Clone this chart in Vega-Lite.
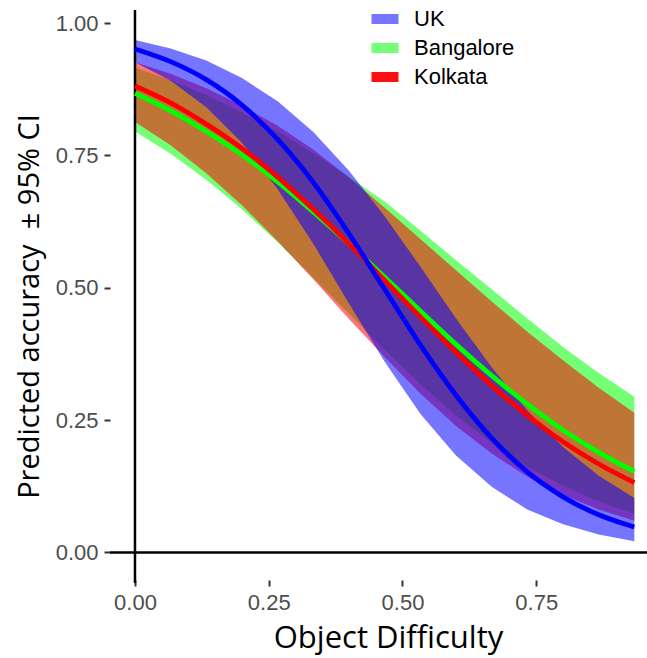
{
  "$schema": "https://vega.github.io/schema/vega-lite/v6.json",
  "width": 537,
  "height": 570,
  "autosize": {"type": "none"},
  "padding": {"left": 110, "top": 10, "right": 0, "bottom": 78},
  "background": "white",
  "config": {"view": {"stroke": null}, "font": "Liberation Sans"},
  "datasets": {
    "d": [
      {"g": "UK", "x": 0, "y": 0.951, "lo": 0.926, "hi": 0.968},
      {"g": "UK", "x": 0.0667, "y": 0.927, "lo": 0.891, "hi": 0.952},
      {"g": "UK", "x": 0.1333, "y": 0.893, "lo": 0.841, "hi": 0.929},
      {"g": "UK", "x": 0.2, "y": 0.845, "lo": 0.774, "hi": 0.896},
      {"g": "UK", "x": 0.2667, "y": 0.78, "lo": 0.686, "hi": 0.852},
      {"g": "UK", "x": 0.3333, "y": 0.699, "lo": 0.583, "hi": 0.794},
      {"g": "UK", "x": 0.4, "y": 0.602, "lo": 0.47, "hi": 0.721},
      {"g": "UK", "x": 0.4667, "y": 0.497, "lo": 0.36, "hi": 0.635},
      {"g": "UK", "x": 0.5333, "y": 0.392, "lo": 0.262, "hi": 0.54},
      {"g": "UK", "x": 0.6, "y": 0.297, "lo": 0.183, "hi": 0.442},
      {"g": "UK", "x": 0.6667, "y": 0.216, "lo": 0.124, "hi": 0.35},
      {"g": "UK", "x": 0.7333, "y": 0.152, "lo": 0.081, "hi": 0.268},
      {"g": "UK", "x": 0.8, "y": 0.105, "lo": 0.053, "hi": 0.199},
      {"g": "UK", "x": 0.8667, "y": 0.071, "lo": 0.034, "hi": 0.145},
      {"g": "UK", "x": 0.9333, "y": 0.048, "lo": 0.021, "hi": 0.103},
      {"g": "Kolkata", "x": 0, "y": 0.881, "lo": 0.813, "hi": 0.926},
      {"g": "Kolkata", "x": 0.0667, "y": 0.849, "lo": 0.769, "hi": 0.904},
      {"g": "Kolkata", "x": 0.1333, "y": 0.809, "lo": 0.716, "hi": 0.877},
      {"g": "Kolkata", "x": 0.2, "y": 0.763, "lo": 0.656, "hi": 0.844},
      {"g": "Kolkata", "x": 0.2667, "y": 0.709, "lo": 0.588, "hi": 0.806},
      {"g": "Kolkata", "x": 0.3333, "y": 0.648, "lo": 0.516, "hi": 0.761},
      {"g": "Kolkata", "x": 0.4, "y": 0.583, "lo": 0.441, "hi": 0.708},
      {"g": "Kolkata", "x": 0.4667, "y": 0.514, "lo": 0.369, "hi": 0.651},
      {"g": "Kolkata", "x": 0.5333, "y": 0.445, "lo": 0.3, "hi": 0.592},
      {"g": "Kolkata", "x": 0.6, "y": 0.378, "lo": 0.239, "hi": 0.533},
      {"g": "Kolkata", "x": 0.6667, "y": 0.315, "lo": 0.187, "hi": 0.474},
      {"g": "Kolkata", "x": 0.7333, "y": 0.259, "lo": 0.143, "hi": 0.417},
      {"g": "Kolkata", "x": 0.8, "y": 0.209, "lo": 0.109, "hi": 0.363},
      {"g": "Kolkata", "x": 0.8667, "y": 0.167, "lo": 0.081, "hi": 0.311},
      {"g": "Kolkata", "x": 0.9333, "y": 0.132, "lo": 0.06, "hi": 0.264},
      {"g": "Bangalore", "x": 0, "y": 0.867, "lo": 0.795, "hi": 0.916},
      {"g": "Bangalore", "x": 0.0667, "y": 0.834, "lo": 0.753, "hi": 0.892},
      {"g": "Bangalore", "x": 0.1333, "y": 0.795, "lo": 0.704, "hi": 0.864},
      {"g": "Bangalore", "x": 0.2, "y": 0.751, "lo": 0.648, "hi": 0.831},
      {"g": "Bangalore", "x": 0.2667, "y": 0.7, "lo": 0.586, "hi": 0.795},
      {"g": "Bangalore", "x": 0.3333, "y": 0.643, "lo": 0.519, "hi": 0.754},
      {"g": "Bangalore", "x": 0.4, "y": 0.583, "lo": 0.451, "hi": 0.709},
      {"g": "Bangalore", "x": 0.4667, "y": 0.52, "lo": 0.383, "hi": 0.663},
      {"g": "Bangalore", "x": 0.5333, "y": 0.456, "lo": 0.318, "hi": 0.608},
      {"g": "Bangalore", "x": 0.6, "y": 0.393, "lo": 0.259, "hi": 0.552},
      {"g": "Bangalore", "x": 0.6667, "y": 0.334, "lo": 0.206, "hi": 0.497},
      {"g": "Bangalore", "x": 0.7333, "y": 0.28, "lo": 0.162, "hi": 0.442},
      {"g": "Bangalore", "x": 0.8, "y": 0.231, "lo": 0.126, "hi": 0.388},
      {"g": "Bangalore", "x": 0.8667, "y": 0.189, "lo": 0.096, "hi": 0.339},
      {"g": "Bangalore", "x": 0.9333, "y": 0.153, "lo": 0.073, "hi": 0.294}
    ]
  },
  "layer": [
    {
      "data": {"name": "d"},
      "transform": [{"filter": "datum.g === 'Bangalore'"}],
      "mark": {"type": "area", "fillOpacity": 0.54},
      "encoding": {
        "x": {
          "field": "x",
          "type": "quantitative",
          "scale": {"domain": [-0.0467, 0.957], "nice": false, "zero": false},
          "axis": {
            "values": [0, 0.25, 0.5, 0.75],
            "format": ".2f",
            "domain": false,
            "grid": false,
            "tickColor": "#333333",
            "tickWidth": 2,
            "tickSize": 6,
            "labelFont": "Liberation Sans",
            "labelFontSize": 22,
            "labelColor": "#4D4D4D",
            "labelPadding": 6,
            "title": "Object Difficulty",
            "titleFont": "Open Sans",
            "titleFontSize": 31,
            "titleFontWeight": "normal",
            "titleColor": "black",
            "titleBaseline": "middle",
            "titleX": 278,
            "titleY": 58
          }
        },
        "y": {
          "field": "lo",
          "type": "quantitative",
          "title": "Predicted accuracy \u00a0± 95% CI",
          "scale": {"domain": [-0.0521, 1.0246], "nice": false, "zero": false},
          "axis": {
            "values": [0, 0.25, 0.5, 0.75, 1],
            "format": ".2f",
            "domain": false,
            "grid": false,
            "tickColor": "#333333",
            "tickWidth": 2,
            "tickSize": 6,
            "labelFont": "Liberation Sans",
            "labelFontSize": 22,
            "labelColor": "#4D4D4D",
            "labelPadding": 6,
            "titleFont": "Open Sans",
            "titleFontSize": 29,
            "titleFontWeight": "normal",
            "titleColor": "black",
            "titleAngle": -90,
            "titleAlign": "center",
            "titleBaseline": "middle",
            "titleX": -81,
            "titleY": 296
          }
        },
        "y2": {"field": "hi"},
        "fill": {
          "field": "g",
          "type": "nominal",
          "scale": {"domain": ["UK", "Bangalore", "Kolkata"], "range": ["#0000FF", "#00FF00", "#FF0000"]},
          "legend": {
            "orient": "none",
            "legendX": 264,
            "legendY": -2,
            "title": null,
            "padding": 0,
            "symbolType": "M-1.35,-0.5H1.35V0.5H-1.35Z",
            "symbolSize": 400,
            "symbolStrokeWidth": 0,
            "labelFont": "Liberation Sans",
            "labelFontSize": 22,
            "labelColor": "black",
            "labelOffset": 18,
            "rowPadding": 7,
            "encode": {
              "symbols": {
                "update": {
                  "fillOpacity": {"signal": "datum.value === 'Kolkata' ? 0.94 : 0.54"},
                  "strokeWidth": {"value": 0}
                }
              }
            }
          }
        }
      }
    },
    {
      "data": {"name": "d"},
      "transform": [{"filter": "datum.g === 'Kolkata'"}],
      "mark": {"type": "area", "fillOpacity": 0.54},
      "encoding": {
        "x": {"field": "x", "type": "quantitative"},
        "y": {"field": "lo", "type": "quantitative", "title": "Predicted accuracy \u00a0± 95% CI"},
        "y2": {"field": "hi"},
        "fill": {"field": "g", "type": "nominal"}
      }
    },
    {
      "data": {"name": "d"},
      "transform": [{"filter": "datum.g === 'UK'"}],
      "mark": {"type": "area", "fillOpacity": 0.54},
      "encoding": {
        "x": {"field": "x", "type": "quantitative"},
        "y": {"field": "lo", "type": "quantitative", "title": "Predicted accuracy \u00a0± 95% CI"},
        "y2": {"field": "hi"},
        "fill": {"field": "g", "type": "nominal"}
      }
    },
    {
      "data": {"values": [{"a": 1}]},
      "mark": {"type": "rule", "color": "black", "strokeWidth": 2.5, "clip": false},
      "encoding": {
        "x": {"datum": 0, "type": "quantitative"},
        "y": {"datum": -0.058, "type": "quantitative"},
        "y2": {"datum": 1.0246}
      }
    },
    {
      "data": {"values": [{"a": 1}]},
      "mark": {"type": "rule", "color": "black", "strokeWidth": 2.5},
      "encoding": {
        "y": {"datum": 0, "type": "quantitative"},
        "x": {"datum": -0.0467, "type": "quantitative"},
        "x2": {"datum": 0.957}
      }
    },
    {
      "data": {"name": "d"},
      "transform": [{"filter": "datum.g === 'Bangalore'"}],
      "mark": {"type": "line", "color": "#00FF00", "strokeWidth": 4.8, "interpolate": "monotone"},
      "encoding": {
        "x": {"field": "x", "type": "quantitative"},
        "y": {"field": "y", "type": "quantitative", "title": "Predicted accuracy \u00a0± 95% CI"}
      }
    },
    {
      "data": {"name": "d"},
      "transform": [{"filter": "datum.g === 'Kolkata'"}],
      "mark": {"type": "line", "color": "#FF0000", "strokeWidth": 4.8, "interpolate": "monotone"},
      "encoding": {
        "x": {"field": "x", "type": "quantitative"},
        "y": {"field": "y", "type": "quantitative", "title": "Predicted accuracy \u00a0± 95% CI"}
      }
    },
    {
      "data": {"name": "d"},
      "transform": [{"filter": "datum.g === 'UK'"}],
      "mark": {"type": "line", "color": "#0000FF", "strokeWidth": 4.8, "interpolate": "monotone"},
      "encoding": {
        "x": {"field": "x", "type": "quantitative"},
        "y": {"field": "y", "type": "quantitative", "title": "Predicted accuracy \u00a0± 95% CI"}
      }
    }
  ]
}
